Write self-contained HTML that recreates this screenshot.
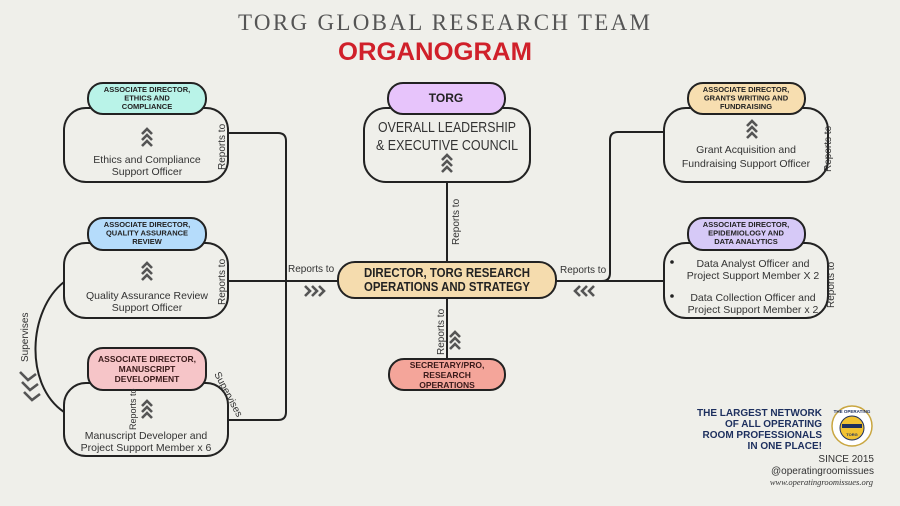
<!DOCTYPE html>
<html><head><meta charset="utf-8"><style>
html,body{margin:0;padding:0;background:#efefea;}
svg{display:block;font-family:"Liberation Sans",sans-serif;}
</style></head><body>
<svg width="900" height="506" viewBox="0 0 900 506" xmlns="http://www.w3.org/2000/svg">
<rect width="900" height="506" fill="#efefea"/>
<defs>
<g id="chev" fill="none" stroke="#555" stroke-width="2.6"><path d="M-5,4 L0,-1 L5,4"/><path d="M-5,10 L0,5 L5,10"/><path d="M-5,16 L0,11 L5,16"/></g>
</defs>
<text x="444" y="30" text-anchor="middle" font-family="Liberation Serif,serif" font-size="23" fill="#555" textLength="412" lengthAdjust="spacing">TORG GLOBAL RESEARCH TEAM</text>
<text x="435" y="60" text-anchor="middle" font-size="25" font-weight="bold" fill="#d0202a" textLength="194" lengthAdjust="spacingAndGlyphs">ORGANOGRAM</text>

<g fill="none" stroke="#222" stroke-width="2">
<path d="M228,133 H278 Q286,133 286,141 V412 Q286,420 278,420 H228"/>
<path d="M228,281 H338"/>
<path d="M64,282 C28,310 24,385 64,412"/>
<path d="M447,182 V262"/><path d="M447,298 V360"/>
<path d="M664,132 H618 Q610,132 610,140 V273 Q610,281 602,281"/>
<path d="M556,281 H664"/>
</g>
<g stroke="#222" stroke-width="2">
<rect x="64" y="108" width="164" height="74" rx="22" fill="#efefea"/>
<rect x="64" y="243" width="164" height="75" rx="22" fill="#efefea"/>
<rect x="64" y="383" width="164" height="73" rx="22" fill="#efefea"/>
<rect x="364" y="108" width="166" height="74" rx="22" fill="#efefea"/>
<rect x="664" y="108" width="164" height="74" rx="22" fill="#efefea"/>
<rect x="664" y="243" width="164" height="75" rx="22" fill="#efefea"/>
<rect x="88" y="83" width="118" height="31" rx="15" fill="#b9f3e8"/>
<rect x="88" y="218" width="118" height="32" rx="15" fill="#b5dcfb"/>
<rect x="88" y="348" width="118" height="42" rx="15" fill="#f6c5c8"/>
<rect x="388" y="83" width="117" height="31" rx="15" fill="#e7c4fb"/>
<rect x="688" y="83" width="117" height="31" rx="15" fill="#f7deb0"/>
<rect x="688" y="218" width="117" height="32" rx="15" fill="#d6c9f7"/>
<rect x="338" y="262" width="218" height="36" rx="17" fill="#f5dcae"/>
<rect x="389" y="359" width="116" height="31" rx="15" fill="#f4a59a"/>
</g>
<g font-size="7.5" font-weight="bold" fill="#222" text-anchor="middle">
<text x="147" y="92">ASSOCIATE DIRECTOR,</text><text x="147" y="100.5">ETHICS AND</text><text x="147" y="109">COMPLIANCE</text>
<text x="147" y="227">ASSOCIATE DIRECTOR,</text><text x="147" y="235.5">QUALITY ASSURANCE</text><text x="147" y="244">REVIEW</text>
<text x="746" y="92">ASSOCIATE DIRECTOR,</text><text x="746" y="100.5">GRANTS WRITING AND</text><text x="746" y="109">FUNDRAISING</text>
<text x="746" y="227">ASSOCIATE DIRECTOR,</text><text x="746" y="235.5">EPIDEMIOLOGY AND</text><text x="746" y="244">DATA ANALYTICS</text>
</g>
<g font-size="8.5" font-weight="bold" fill="#3a1a1a" text-anchor="middle">
<text x="147" y="362">ASSOCIATE DIRECTOR,</text><text x="147" y="372">MANUSCRIPT</text><text x="147" y="382">DEVELOPMENT</text>
<text x="447" y="368">SECRETARY/PRO,</text><text x="447" y="378">RESEARCH</text><text x="447" y="388">OPERATIONS</text>
</g>
<text x="446" y="102" text-anchor="middle" font-size="12" font-weight="bold" fill="#222">TORG</text>
<g font-size="13" font-weight="bold" fill="#222" text-anchor="middle">
<text x="447" y="277" textLength="166" lengthAdjust="spacingAndGlyphs">DIRECTOR, TORG RESEARCH</text><text x="447" y="291" textLength="166" lengthAdjust="spacingAndGlyphs">OPERATIONS AND STRATEGY</text>
</g>
<g font-size="14.5" fill="#333" text-anchor="middle">
<text x="447" y="132" textLength="138" lengthAdjust="spacingAndGlyphs">OVERALL LEADERSHIP</text><text x="447" y="150" textLength="142" lengthAdjust="spacingAndGlyphs">&amp; EXECUTIVE COUNCIL</text>
</g>
<g font-size="10.5" fill="#333" text-anchor="middle">
<text x="147" y="163">Ethics and Compliance</text><text x="147" y="175">Support Officer</text>
<text x="147" y="299">Quality Assurance Review</text><text x="147" y="311">Support Officer</text>
<text x="146" y="439">Manuscript Developer and</text><text x="146" y="451">Project Support Member x 6</text>
<text x="746" y="153">Grant Acquisition and</text><text x="746" y="167">Fundraising Support Officer</text>
<text x="753" y="267">Data Analyst Officer and</text><text x="753" y="279">Project Support Member X 2</text>
<text x="753" y="301">Data Collection Officer and</text><text x="753" y="313">Project Support Member x 2</text>
</g>
<circle cx="672" cy="262" r="1.8" fill="#222"/><circle cx="672" cy="296" r="1.8" fill="#222"/>
<use href="#chev" x="147" y="130"/><use href="#chev" x="147" y="264"/><use href="#chev" x="147" y="402"/>
<use href="#chev" x="447" y="156"/><use href="#chev" x="752" y="122"/><use href="#chev" x="455" y="333"/>
<g fill="none" stroke="#555" stroke-width="2.6">
<path d="M305,286 l5,5 l-5,5 M312,286 l5,5 l-5,5 M319,286 l5,5 l-5,5"/>
<path d="M594,286 l-5,5 l5,5 M587,286 l-5,5 l5,5 M580,286 l-5,5 l5,5"/>
<path d="M20,372 l8,8 l8,-6 M22,382 l8,8 l8,-6 M24,392 l8,8 l8,-6"/>
</g>
<g font-size="10" fill="#333">
<text x="288" y="272">Reports to</text>
<text x="560" y="273">Reports to</text>
<text transform="translate(225,170) rotate(-90)">Reports to</text>
<text transform="translate(225,305) rotate(-90)">Reports to</text>
<text transform="translate(459,245) rotate(-90)">Reports to</text>
<text transform="translate(444,355) rotate(-90)">Reports to</text>
<text transform="translate(136,430) rotate(-90)" font-size="9">Reports to</text>
<text transform="translate(831,172) rotate(-90)">Reports to</text>
<text transform="translate(834,308) rotate(-90)">Reports to</text>
<text transform="translate(28,362) rotate(-90)">Supervises</text>
<text transform="translate(214,374) rotate(62)">Supervises</text>
</g>
<g font-size="10" font-weight="bold" fill="#1d2f5e" text-anchor="end">
<text x="822" y="416">THE LARGEST NETWORK</text><text x="822" y="427">OF ALL OPERATING</text>
<text x="822" y="438">ROOM PROFESSIONALS</text><text x="822" y="449">IN ONE PLACE!</text>
</g>
<circle cx="852" cy="426" r="20" fill="#fff" stroke="#c9a640" stroke-width="1.5"/>
<circle cx="852" cy="428" r="12" fill="#f1c232" stroke="#1d2f5e" stroke-width="1"/>
<rect x="842" y="424" width="20" height="4" fill="#1d2f5e"/>
<text x="852" y="413" font-size="4.5" font-weight="bold" text-anchor="middle" fill="#1d2f5e">THE OPERATING</text>
<text x="852" y="436" font-size="4" font-weight="bold" text-anchor="middle" fill="#1d2f5e">TORG</text>
<g text-anchor="end" fill="#333">
<text x="874" y="462" font-size="10">SINCE 2015</text>
<text x="874" y="474" font-size="10">@operatingroomissues</text>
<text x="873" y="485" font-size="8.5" font-style="italic" font-family="Liberation Serif,serif">www.operatingroomissues.org</text>
</g>
</svg>
</body></html>
